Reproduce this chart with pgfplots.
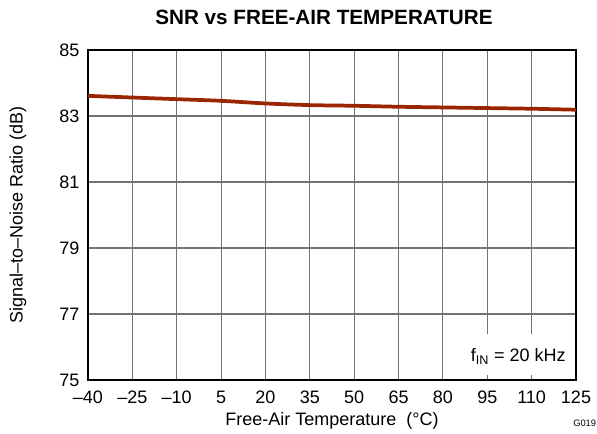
\documentclass[border=0pt]{standalone}
\usepackage{pgfplots}
\pgfplotsset{compat=1.18}
\usepackage{fontspec}
\setmainfont{Liberation Sans}
\definecolor{snr}{RGB}{153,38,0}
\begin{document}
\begin{tikzpicture}
\useasboundingbox (-66pt,-39.75pt) rectangle (381.75pt,285pt);
\begin{axis}[
  at={(0,0)}, anchor=south west,
  scale only axis, width=366pt, height=247.5pt,
  xmin=-40, xmax=125, ymin=75, ymax=85,
  xtick={-40,-25,-10,5,20,35,50,65,80,95,110,125},
  xticklabels={\textendash40,\textendash25,\textendash10,5,20,35,50,65,80,95,110,125},
  ytick={75,77,79,81,83,85},
  major tick length=0pt,
  grid=major,
  major grid style={black!55, line width=0.8pt},
  axis line style={black, line width=1.7pt},
  tick label style={font=\fontsize{13.5}{15}\selectfont},
  /pgf/number format/assume math mode=true,
  xticklabel style={yshift=-4.5pt},
  yticklabel style={xshift=-3pt},
  xlabel={Free-Air Temperature~~(°C)},
  ylabel={Signal\textendash to\textendash Noise Ratio (dB)},
  label style={font=\fontsize{13.5}{15}\selectfont},
  xlabel style={at={(axis description cs:0.5,0)}, anchor=center, yshift=-31pt},
  ylabel style={at={(axis description cs:0,0.5)}, anchor=center, yshift=52.5pt},
  title={\bfseries SNR vs FREE-AIR TEMPERATURE},
  title style={font=\fontsize{15.5}{17}\selectfont, at={(axis description cs:0.5,1)}, anchor=center, yshift=18.5pt, xshift=-6pt},
]
\fill[white] (axis cs:86,75.15) rectangle (axis cs:124.6,76.4);
\addplot[color=snr, line width=2.8pt, smooth] coordinates {
(-40,83.61) (-25,83.56) (-10,83.51) (5,83.46) (20,83.38) (35,83.33)
(50,83.31) (65,83.28) (80,83.26) (95,83.24) (110,83.22) (125,83.19)};
\node[anchor=east, font=\fontsize{13.5}{15}\selectfont, inner sep=0pt] at (axis cs:121.6,75.7) {f\textsubscript{IN} = 20 kHz};
\end{axis}
\node[anchor=west, font=\fontsize{7}{8}\selectfont, inner sep=0pt] at (363.75pt,-32.25pt) {G019};
\end{tikzpicture}
\end{document}
